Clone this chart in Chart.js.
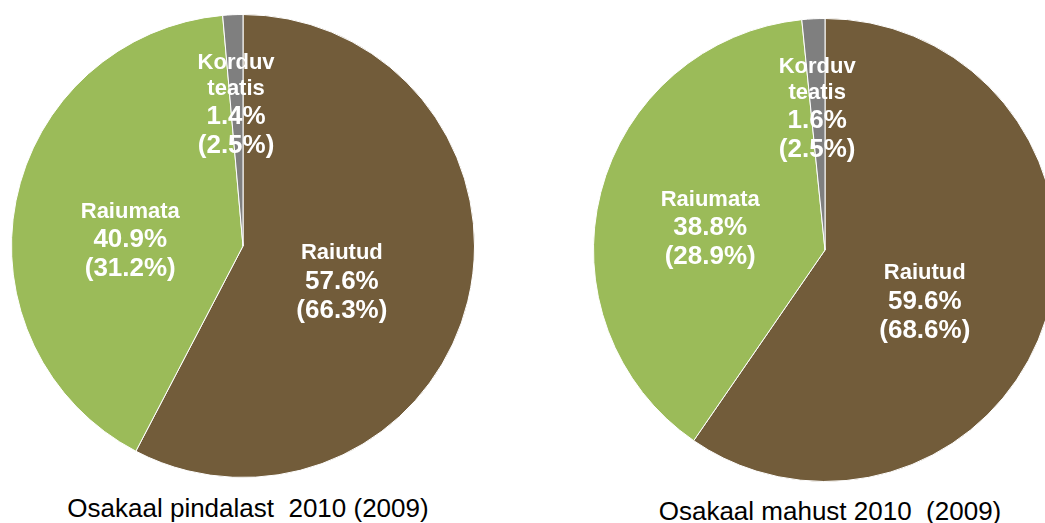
<!DOCTYPE html>
<html>
<head>
<meta charset="utf-8">
<script src="https://cdn.jsdelivr.net/npm/chart.js@4/dist/chart.umd.min.js"></script>
<style>
  html, body { margin: 0; padding: 0; background: #fff; overflow: hidden; }
  body { width: 1045px; height: 523px; position: relative; }
  .pie { position: absolute; width: 464px; height: 464px; }
  .caption {
    position: absolute;
    font-family: "Liberation Sans", Arial, sans-serif;
    font-size: 26px;
    line-height: 26px;
    color: #000;
    text-align: center;
    white-space: pre;
  }
</style>
</head>
<body>
  <div class="pie" style="left:11px; top:14px;"><canvas id="areaChart" width="464" height="464"></canvas></div>
  <div class="pie" style="left:593px; top:18px;"><canvas id="volumeChart" width="464" height="464"></canvas></div>
  <div class="caption" id="areaCaption" style="left:0px; top:495px; width:496px;"></div>
  <div class="caption" id="volumeCaption" style="left:630px; top:498px; width:400px;"></div>

<script>
// data
const categories = ['Raiutud', 'Raiumata', 'Korduv teatis'];
const areaShare2010 = [57.6, 40.9, 1.4];
const areaShare2009 = [66.3, 31.2, 2.5];
const volumeShare2010 = [59.6, 38.8, 1.6];
const volumeShare2009 = [68.6, 28.9, 2.5];
const captions = ['Osakaal pindalast  2010 (2009)', 'Osakaal mahust 2010  (2009)'];

const sliceColors = ['#725c3a', '#9bbb59', '#7f7f7f'];

// label block centre, as a fraction of the radius from the pie centre
const areaLabelOffsets = [[0.427, 0.155], [-0.487, -0.026], [-0.03, -0.612]];
const volumeLabelOffsets = [[0.431, 0.224], [-0.496, -0.095], [-0.034, -0.612]];

const fontFamily = '"Liberation Sans", Arial, sans-serif';
const nameSize = 22;
const pctSize = 26;

const sliceLabels = {
  id: 'sliceLabels',
  afterDatasetsDraw(chart, args, opts) {
    const ctx = chart.ctx;
    const meta = chart.getDatasetMeta(0);
    const ds = chart.data.datasets[0];
    meta.data.forEach((arc, i) => {
      const r = arc.outerRadius;
      const cx = arc.x + opts.offsets[i][0] * r;
      const cy = arc.y + opts.offsets[i][1] * r;

      // name lines (split on space) then two percentage lines
      const lines = [];
      chart.data.labels[i].split(' ').forEach(w => lines.push({ text: w, size: nameSize }));
      lines.push({ text: ds.data[i].toFixed(1) + '%', size: pctSize });
      lines.push({ text: '(' + opts.previous[i].toFixed(1) + '%)', size: pctSize });

      // vertical spacing between line centres
      const ys = [0];
      for (let k = 1; k < lines.length; k++) {
        const step = lines[k].size === nameSize ? 26 : (lines[k - 1].size === nameSize ? 28 : 29);
        ys.push(ys[k - 1] + step);
      }
      const mid = ys[ys.length - 1] / 2;

      ctx.save();
      ctx.fillStyle = '#ffffff';
      ctx.textAlign = 'center';
      ctx.textBaseline = 'middle';
      lines.forEach((ln, k) => {
        ctx.font = 'bold ' + ln.size + 'px ' + fontFamily;
        ctx.fillText(ln.text, cx, cy + ys[k] - mid);
      });
      ctx.restore();
    });
  }
};

function makePie(canvasId, current, previous, offsets) {
  const ctx = document.getElementById(canvasId).getContext('2d');
  return new Chart(ctx, {
    type: 'pie',
    data: {
      labels: categories,
      datasets: [{
        data: current,
        backgroundColor: sliceColors,
        borderColor: '#ffffff',
        borderWidth: 1
      }]
    },
    options: {
      responsive: false,
      animation: false,
      layout: { padding: 0 },
      plugins: {
        legend: { display: false },
        tooltip: { enabled: false },
        sliceLabels: { offsets: offsets, previous: previous }
      }
    },
    plugins: [sliceLabels]
  });
}

makePie('areaChart', areaShare2010, areaShare2009, areaLabelOffsets);
makePie('volumeChart', volumeShare2010, volumeShare2009, volumeLabelOffsets);

document.getElementById('areaCaption').textContent = captions[0];
document.getElementById('volumeCaption').textContent = captions[1];
</script>
</body>
</html>
